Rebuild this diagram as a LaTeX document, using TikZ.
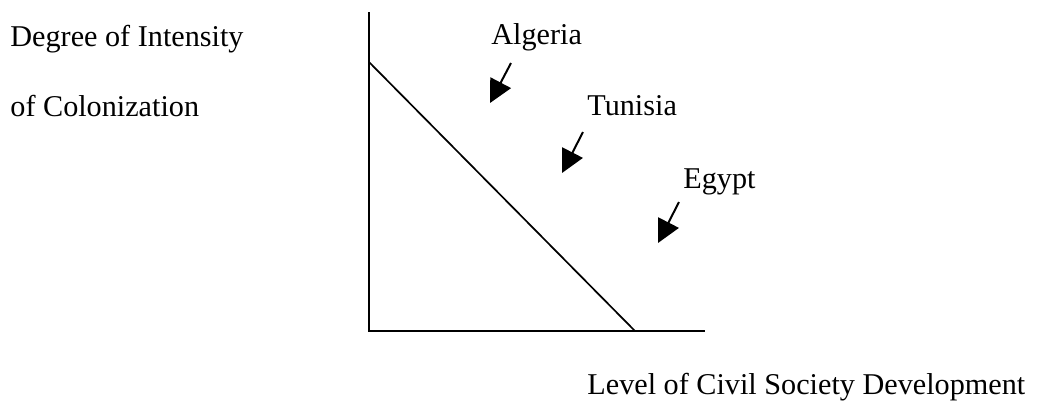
\documentclass[tikz,border=0pt]{standalone}
\usepackage{fontspec}
\setmainfont{Liberation Serif}
\usetikzlibrary{arrows.meta}
\begin{document}
\begin{tikzpicture}[x=0.5pt,y=-0.5pt,
  lbl/.style={anchor=base west,inner sep=0pt,font=\fontsize{15.1}{18}\selectfont},
  axis/.style={line width=1.1pt},
  pointer/.style={line width=1pt,-{Triangle[length=11.5pt,width=11.5pt]}}]
\useasboundingbox (0,0) rectangle (1057,409);
% axes
\coordinate (top) at (369,12);
\coordinate (origin) at (369,331);
\coordinate (right) at (705,331);
\coordinate (d1) at (369,62);
\coordinate (d2) at (635,331);
\draw[axis] (top) -- (origin) -- (right);
\draw[line width=0.85pt] (d1) -- (d2);
% labels
\node[lbl] (deg) at (10,46) {Degree of Intensity};
\node[lbl] (col) at (10,116) {of Colonization};
\node[lbl] (alg) at (491,44) {Algeria};
\node[lbl] (tun) at (587,115) {Tunisia};
\node[lbl] (egy) at (683,188) {Egypt};
\node[lbl] (lev) at (587,394) {Level of Civil Society Development};
% pointers
\coordinate (a1) at (511,63); \coordinate (a2) at (490,103);
\coordinate (t1) at (583,132); \coordinate (t2) at (562,173);
\coordinate (e1) at (679,202); \coordinate (e2) at (658,243);
\draw[pointer] (a1) -- (a2);
\draw[pointer] (t1) -- (t2);
\draw[pointer] (e1) -- (e2);
\end{tikzpicture}
\end{document}
